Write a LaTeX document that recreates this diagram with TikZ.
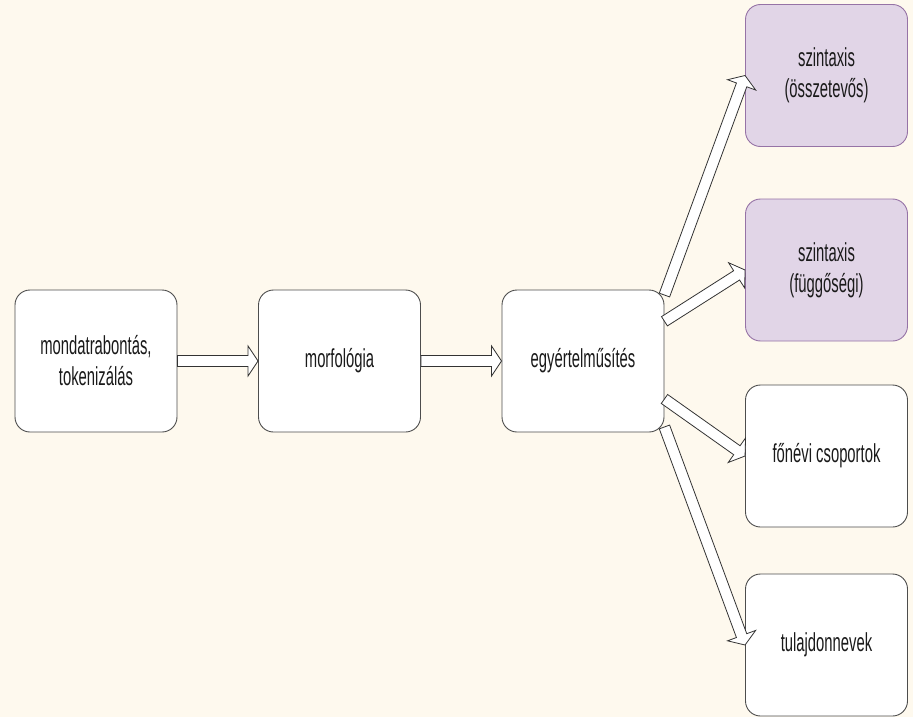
\documentclass[tikz,border=0pt]{standalone}
\usepackage{fontspec}
\setmainfont{Liberation Sans}
\newfontfamily\boxfont[FakeStretch=0.57]{Liberation Sans}
\usetikzlibrary{calc}
\definecolor{bgc}{HTML}{FEF9EE}
\definecolor{boxline}{HTML}{4D4D4D}
\definecolor{purplefill}{HTML}{E1D5E7}
\definecolor{purpleline}{HTML}{9673A6}
\definecolor{arrowline}{HTML}{333333}
\definecolor{textc}{HTML}{1A1A1A}
\newcommand{\fatarrow}[2]{%
  \path (#1) coordinate (fa-a) (#2) coordinate (fa-b);
  \coordinate (fa-h) at ($(fa-b)!10pt!(fa-a)$);
  \draw[fatarrowstyle]
    ($(fa-a)!5.5pt!90:(fa-b)$) -- ($(fa-h)!5.5pt!-90:(fa-a)$) --
    ($(fa-h)!15pt!-90:(fa-a)$) -- (fa-b) --
    ($(fa-h)!15pt!90:(fa-a)$) -- ($(fa-h)!5.5pt!90:(fa-a)$) --
    ($(fa-a)!5.5pt!-90:(fa-b)$) -- cycle;}
\begin{document}
\begin{tikzpicture}[x=1pt,y=-1pt,
  box/.style={draw=boxline, fill=white, rounded corners=15pt,
    minimum width=162pt, minimum height=142pt, line width=0.9pt,
    align=center, inner sep=0pt, text=textc,
    font=\boxfont\fontsize{26}{31}\selectfont},
  purplebox/.style={box, draw=purpleline, fill=purplefill},
  fatarrowstyle/.style={draw=arrowline, fill=white, line width=0.8pt, line join=miter}]
\fill[bgc] (0,0) rectangle (913,717);
\useasboundingbox (0,0) rectangle (913,717);
\node[box] (b1) at (96,361) {mondatrabontás,\\tokenizálás};
\node[box] (b2) at (339.5,361) {morfológia};
\node[box] (b3) at (583,361) {egyértelműsítés};
\node[purplebox] (r1) at (826.5,75.5) {szintaxis\\(összetevős)};
\node[purplebox] (r2) at (826.5,270) {szintaxis\\(függőségi)};
\node[box] (r3) at (826.5,456) {főnévi csoportok};
\node[box] (r4) at (826.5,645) {tulajdonnevek};
\fatarrow{b1.east}{b2.west}
\fatarrow{b2.east}{b3.west}
\fatarrow{b3.39}{r1.west}
\fatarrow{b3.26}{r2.west}
\fatarrow{b3.-25}{r3.west}
\fatarrow{b3.-39}{r4.west}
\end{tikzpicture}
\end{document}
